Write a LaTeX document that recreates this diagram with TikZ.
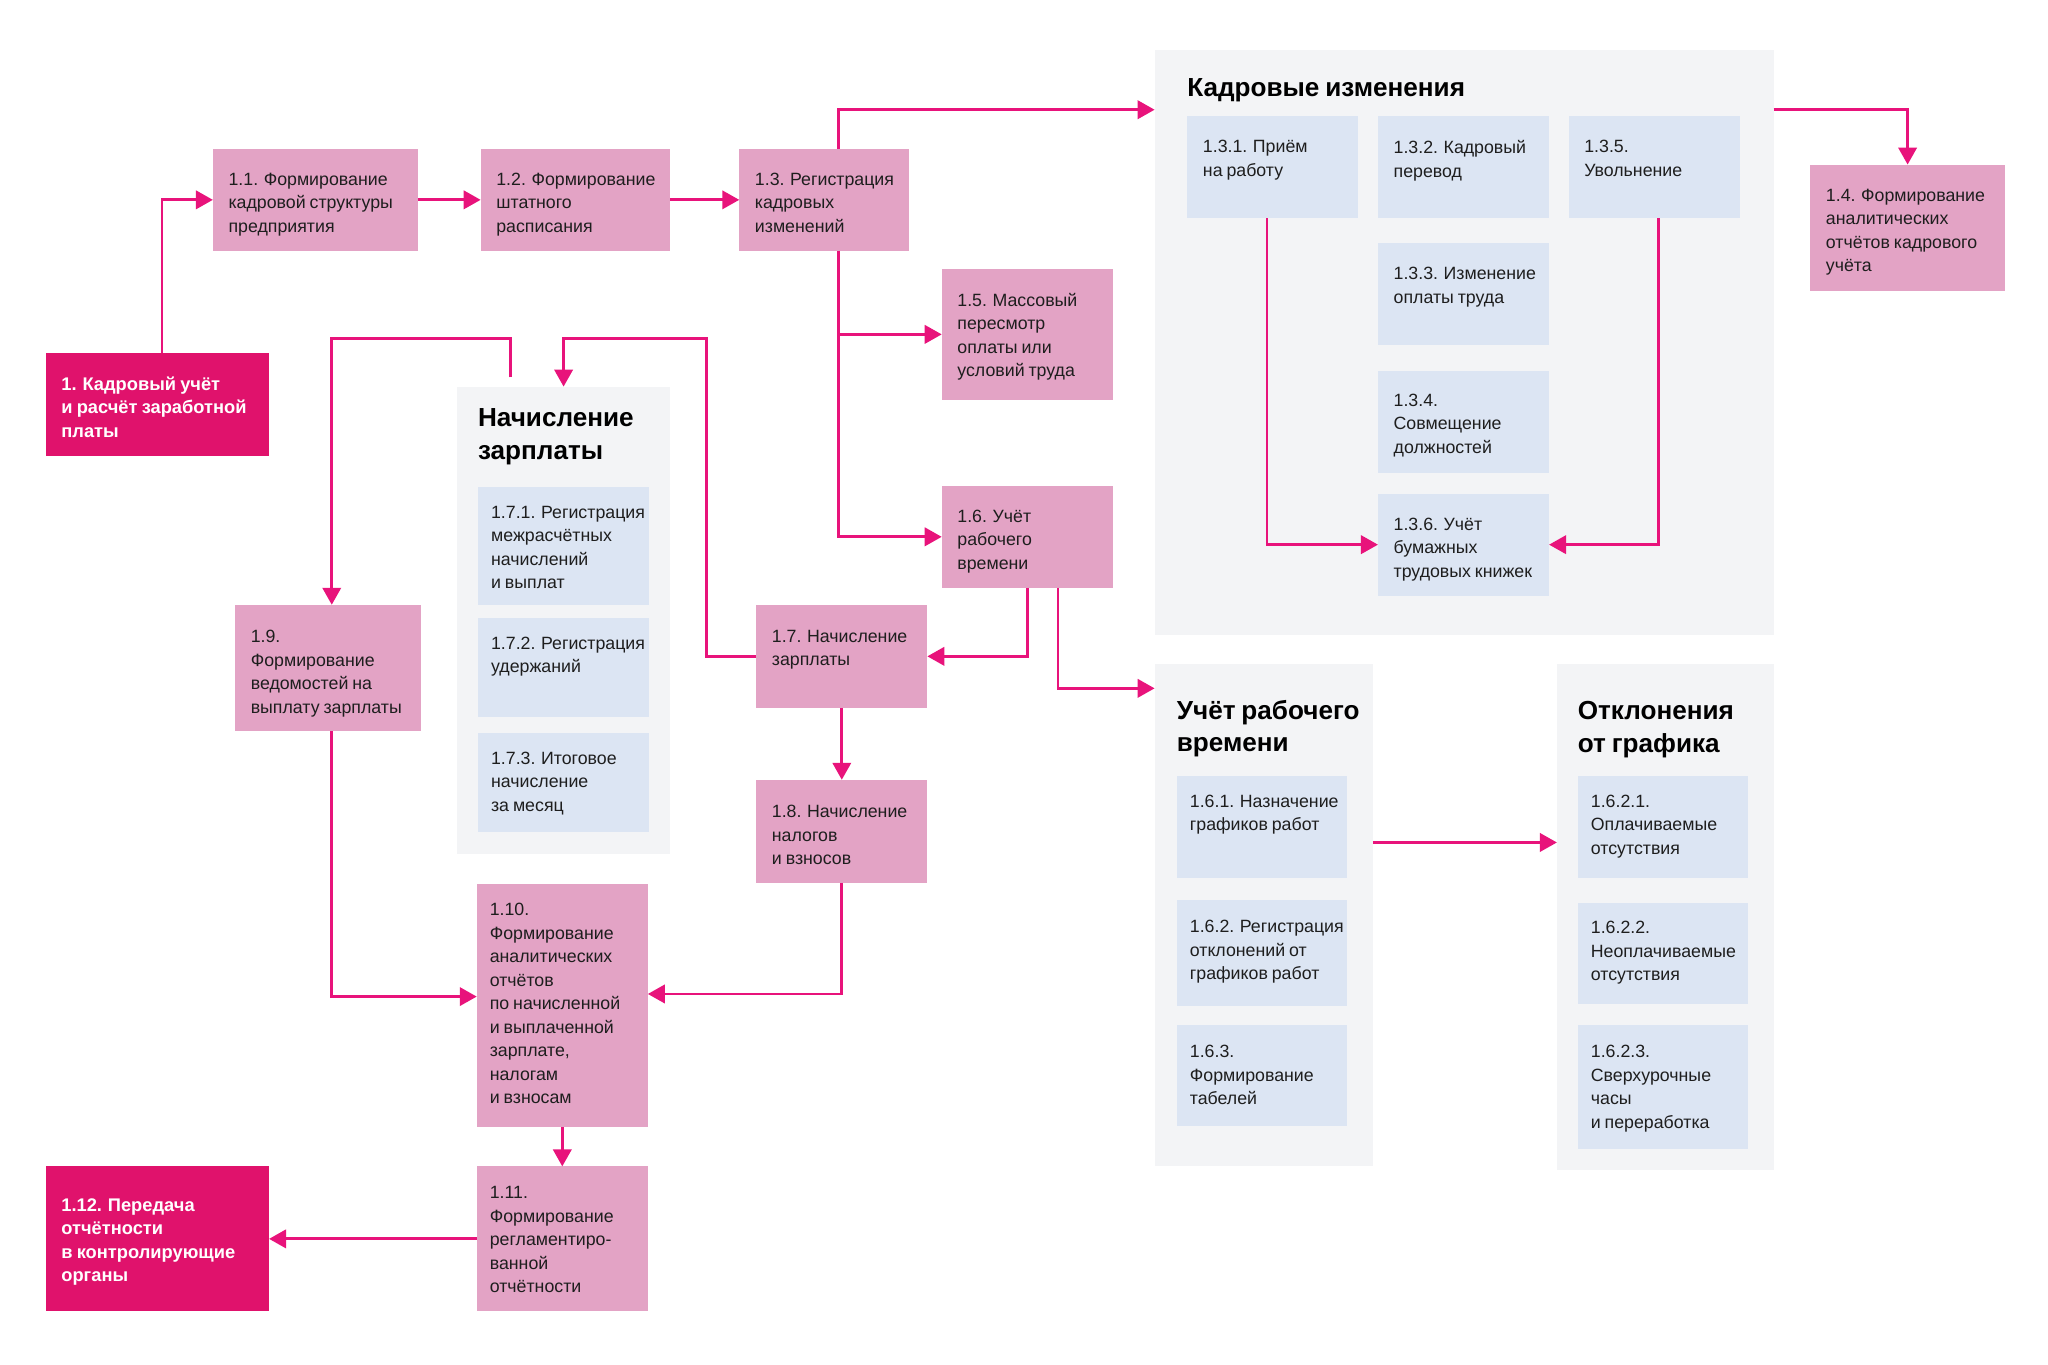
\documentclass[tikz,border=0pt]{standalone}
\usepackage{fontspec}
\setmainfont{Liberation Sans}
\usetikzlibrary{arrows.meta,calc}
\definecolor{pk}{HTML}{E3A3C5}
\definecolor{mg}{HTML}{E0126C}
\definecolor{ln}{HTML}{E8137B}
\definecolor{grp}{HTML}{F3F4F6}
\definecolor{bl}{HTML}{DCE5F3}
\definecolor{tx}{HTML}{1E1E1E}
\tikzset{
 basebox/.style={inner sep=0, outer sep=0, anchor=north west, draw=none},
 pkbox/.style={basebox, fill=pk},
 mgbox/.style={basebox, fill=mg},
 blbox/.style={basebox, fill=bl},
 grpbox/.style={basebox, fill=grp},
 bodytxt/.style={inner sep=0, outer sep=0, anchor=north west, align=left, font={\fontsize{13.6}{18}\selectfont\spaceskip=3pt plus 1pt}, text=tx, execute at begin node=\rule{0pt}{13pt}},
 pkboxt/.style={bodytxt},
 blboxt/.style={bodytxt},
 mgboxt/.style={bodytxt, text=white, font={\fontsize{14}{18}\selectfont\bfseries\spaceskip=3.2pt plus 1pt}},
 ttl/.style={inner sep=0, outer sep=0, anchor=north west, align=left, font={\fontsize{20}{25}\selectfont\bfseries\spaceskip=4.5pt plus 1pt}, text=black, execute at begin node=\rule{0pt}{18pt}},
 arr/.style={draw=ln, line width=2.2pt, -{Triangle[length=13pt,width=14pt]}},
}
\newcommand\bx[9]{%
 \node[#2, minimum width=#5pt, minimum height=#6pt] (#1) at (#3,#4) {};
 \node[#2t] (#1t) at ($(#1.north west)+(#7,#8+4.5)$) {#9};}
\begin{document}
\begin{tikzpicture}[x=1pt,y=-1pt]
\fill[white] (0,0) rectangle (1568,1045);
\useasboundingbox (0,0) rectangle (1568,1045);
% groups
\node[grpbox, minimum width=474pt, minimum height=448pt] (gK) at (884,38) {};
\node[grpbox, minimum width=163pt, minimum height=358pt] (gN) at (350,296) {};
\node[grpbox, minimum width=167pt, minimum height=385pt] (gU) at (884,508) {};
\node[grpbox, minimum width=166pt, minimum height=388pt] (gO) at (1192,508) {};
\node[ttl] (tK) at (909,56) {Кадровые изменения};
\node[ttl] (tN) at (366,313) {Начисление\\зарплаты};
\node[ttl] (tU) at (901,536) {Учёт рабочего\\времени};
\node[ttl] (tO) at (1208,537) {Отклонения\\от графика};
% main boxes
\bx{n1}{mgbox}{35}{270}{171}{79}{12}{14}{1. Кадровый учёт\\и расчёт заработной\\платы}
\bx{n11}{pkbox}{163}{114}{157}{78}{12}{14}{1.1. Формирование\\кадровой структуры\\предприятия}
\bx{n12}{pkbox}{368}{114}{145}{78}{12}{14}{1.2. Формирование\\штатного\\расписания}
\bx{n13}{pkbox}{566}{114}{130}{78}{12}{14}{1.3. Регистрация\\кадровых\\изменений}
\bx{n15}{pkbox}{721}{206}{131}{100}{12}{14}{1.5. Массовый\\пересмотр\\оплаты или\\условий труда}
\bx{n16}{pkbox}{721}{372}{131}{78}{12}{14}{1.6. Учёт\\рабочего\\времени}
\bx{n17}{pkbox}{579}{463}{131}{79}{12}{15}{1.7. Начисление\\зарплаты}
\bx{n18}{pkbox}{579}{597}{131}{79}{12}{15}{1.8. Начисление\\налогов\\и взносов}
\bx{n19}{pkbox}{180}{463}{142}{97}{12}{15}{1.9.\\Формирование\\ведомостей на\\выплату зарплаты}
\bx{n110}{pkbox}{365}{677}{131}{186}{10}{10}{1.10.\\Формирование\\аналитических\\отчётов\\по начисленной\\и выплаченной\\зарплате,\\налогам\\и взносам}
\bx{n111}{pkbox}{365}{893}{131}{111}{10}{11}{1.11.\\Формирование\\регламентиро-\\ванной\\отчётности}
\bx{n112}{mgbox}{35}{893}{171}{111}{12}{20}{1.12. Передача\\отчётности\\в контролирующие\\органы}
\bx{n14}{pkbox}{1386}{126}{149}{97}{12}{14}{1.4. Формирование\\аналитических\\отчётов кадрового\\учёта}
% blue boxes
\bx{n131}{blbox}{909}{89}{131}{78}{12}{14}{1.3.1. Приём\\на работу}
\bx{n132}{blbox}{1055}{89}{131}{78}{12}{14}{1.3.2. Кадровый\\перевод}
\bx{n135}{blbox}{1201}{89}{131}{78}{12}{14}{1.3.5.\\Увольнение}
\bx{n133}{blbox}{1055}{186}{131}{78}{12}{14}{1.3.3. Изменение\\оплаты труда}
\bx{n134}{blbox}{1055}{284}{131}{78}{12}{13}{1.3.4.\\Совмещение\\должностей}
\bx{n136}{blbox}{1055}{378}{131}{78}{12}{14}{1.3.6. Учёт\\бумажных\\трудовых книжек}
\bx{n171}{blbox}{366}{373}{131}{90}{10}{10}{1.7.1. Регистрация\\межрасчётных\\начислений\\и выплат}
\bx{n172}{blbox}{366}{473}{131}{76}{10}{10}{1.7.2. Регистрация\\удержаний}
\bx{n173}{blbox}{366}{561}{131}{76}{10}{10}{1.7.3. Итоговое\\начисление\\за месяц}
\bx{n161}{blbox}{901}{594}{130}{78}{10}{10}{1.6.1. Назначение\\графиков работ}
\bx{n162}{blbox}{901}{689}{130}{81}{10}{11}{1.6.2. Регистрация\\отклонений от\\графиков работ}
\bx{n163}{blbox}{901}{785}{130}{77}{10}{11}{1.6.3.\\Формирование\\табелей}
\bx{n1621}{blbox}{1208}{594}{130}{78}{10}{10}{1.6.2.1.\\Оплачиваемые\\отсутствия}
\bx{n1622}{blbox}{1208}{691}{130}{78}{10}{10}{1.6.2.2.\\Неоплачиваемые\\отсутствия}
\bx{n1623}{blbox}{1208}{785}{130}{95}{10}{11}{1.6.2.3.\\Сверхурочные\\часы\\и переработка}
% helper coordinates
\coordinate (c1) at (541,259);
\coordinate (c2) at (391,289);
\coordinate (c3) at (254,259);
% connectors
\draw[arr] ([xshift=3.5pt]n1.north) |- (n11.west);
\draw[arr] (n11.east) -- (n12.west);
\draw[arr] (n12.east) -- (n13.west);
\draw[arr] ([xshift=11pt]n13.north) |- ([yshift=-46pt]gK.north west);
\draw[arr] ([yshift=-46pt]gK.north east) -| (n14.north);
\draw[arr] ([xshift=11pt]n13.south) |- (n15.west);
\draw[arr] ([xshift=11pt]n13.south) |- (n16.west);
\draw[arr] (n16.south) |- (n17.east);
\draw[arr] ([xshift=23.5pt]n16.south) |- ([yshift=-19pt]gU.north west);
\draw[arr] (n17.west) -| (c1) -| (gN.north);
\draw[arr] (c2) |- (c3) -- (c3 |- n19.north);
\draw[arr] (n17.south) -- (n18.north);
\draw[arr] (n18.south) |- ([yshift=9pt]n110.east);
\draw[arr] ([xshift=3pt]n19.south) |- ([yshift=7pt]n110.west);
\draw[arr] (n110.south) -- (n111.north);
\draw[arr] (n111.west) -- (n112.east);
\draw[arr] ([xshift=-4.5pt]n131.south) |- (n136.west);
\draw[arr] ([xshift=3.5pt]n135.south) |- (n136.east);
\draw[arr] ([yshift=-137pt]gU.north east) -- ([yshift=-137pt]gO.north west);
\end{tikzpicture}
\end{document}
